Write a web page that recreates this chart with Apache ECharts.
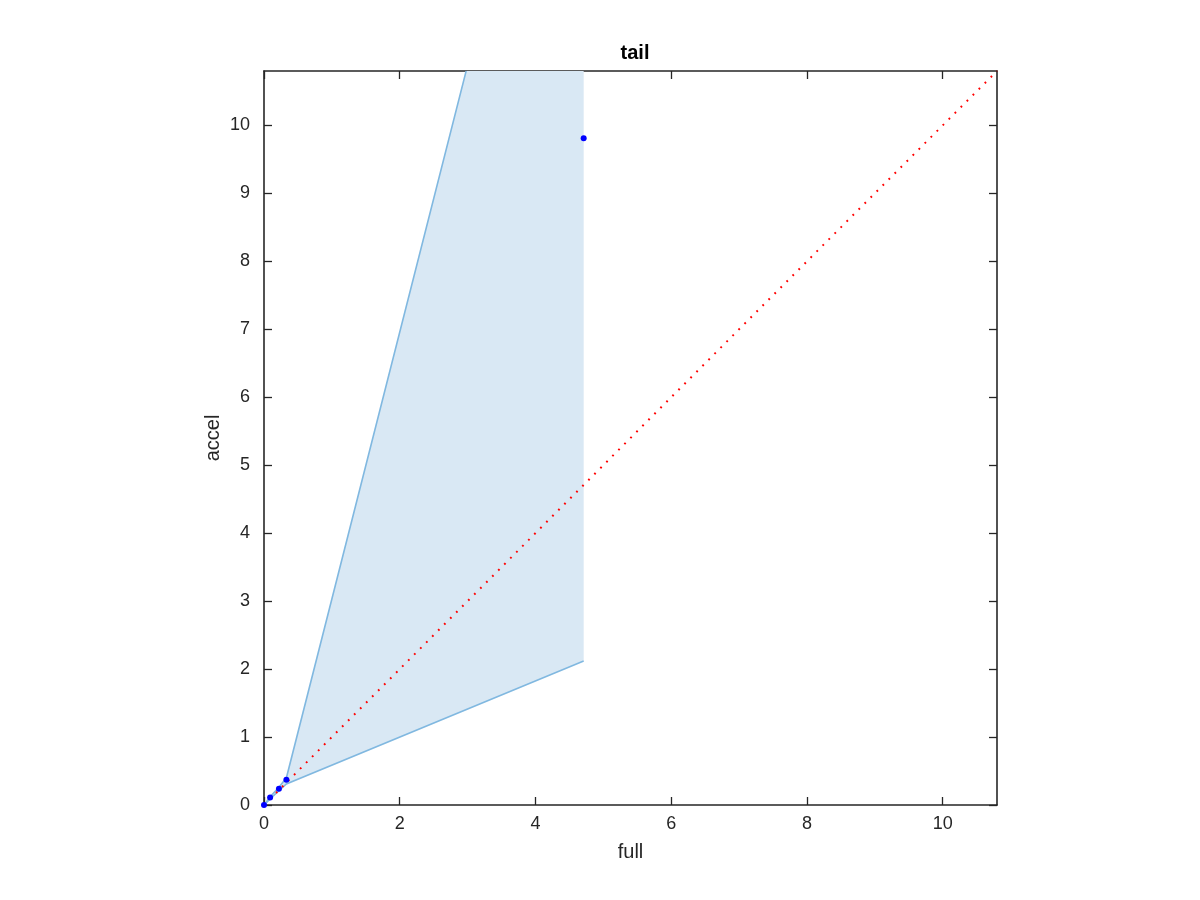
<!DOCTYPE html>
<html>
<head>
<meta charset="utf-8">
<script src="https://cdn.jsdelivr.net/npm/echarts@6/dist/echarts.min.js"></script>
<style>html,body{margin:0;padding:0;background:#fff}#c{width:1200px;height:900px}</style>
</head>
<body>
<div id="c"></div>
<script>
// data
var fullX = [0, 0.09, 0.22, 0.33, 4.71];
var accelY = [0, 0.11, 0.24, 0.37, 9.81];
var lowerBound = [0, 0.09, 0.21, 0.31, 2.12];
var upperBound = [0, 0.12, 0.26, 0.40, 17.6];
var refLine = [0, 10.8];
var xTicks = [0, 2, 4, 6, 8, 10];
var yTicks = [0, 1, 2, 3, 4, 5, 6, 7, 8, 9, 10];
var axisMax = 10.8;

var FONT = '"Liberation Sans", Arial, Helvetica, sans-serif';
var AX = '#262626';
var EDGE = '#80b8e0';
var FILL = '#d9e8f4';

function pairs(xs, ys) { return xs.map(function (x, i) { return [x, ys[i]]; }); }

function mkAxis(pos, ticks, showLabels, margin, extra) {
  var a = {
    type: 'value', position: pos, min: 0, max: axisMax,
    splitLine: { show: false },
    axisLine: { show: true, onZero: false, lineStyle: { color: AX, width: 1.6 } },
    axisTick: { show: true, inside: true, length: 8, customValues: ticks, lineStyle: { color: AX, width: 1.3 } },
    axisLabel: { show: showLabels, customValues: ticks, margin: margin, color: AX, fontSize: 18, fontFamily: FONT }
  };
  for (var k in extra) a[k] = extra[k];
  return a;
}

var bandData = fullX.map(function (x, i) { return [x, lowerBound[i], upperBound[i]]; });

function renderBand(params, api) {
  if (params.dataIndex !== 0) return null;
  var up = [], lo = [];
  for (var i = 0; i < bandData.length; i++) {
    up.push(api.coord([bandData[i][0], bandData[i][2]]));
    lo.push(api.coord([bandData[i][0], bandData[i][1]]));
  }
  var poly = up.concat(lo.slice().reverse());
  return {
    type: 'group',
    children: [
      { type: 'polygon', shape: { points: poly }, style: { fill: FILL, stroke: null } },
      { type: 'polyline', shape: { points: up }, style: { fill: null, stroke: EDGE, lineWidth: 1.6 } },
      { type: 'polyline', shape: { points: lo }, style: { fill: null, stroke: EDGE, lineWidth: 1.6 } }
    ]
  };
}

var chart = echarts.init(document.getElementById('c'), null, { renderer: 'canvas' });
chart.setOption({
  animation: false,
  backgroundColor: '#fff',
  title: {
    text: 'tail', left: 630, top: 38, textAlign: 'center',
    textStyle: { fontFamily: FONT, fontSize: 20, fontWeight: 'bold', color: '#000' }
  },
  grid: { left: 264, top: 71, right: 203, bottom: 95, containLabel: false },
  xAxis: [
    mkAxis('bottom', xTicks, true, 10, { name: 'full', nameLocation: 'middle', nameGap: 37, nameMoveOverlap: false,
      nameTextStyle: { fontFamily: FONT, fontSize: 20, color: AX } }),
    mkAxis('top', xTicks, false, 8, {})
  ],
  yAxis: [
    mkAxis('left', yTicks, true, 14, { name: 'accel', nameLocation: 'middle', nameGap: 41, nameRotate: 90, nameMoveOverlap: false,
      nameTextStyle: { fontFamily: FONT, fontSize: 20, color: AX } }),
    mkAxis('right', yTicks, false, 8, {})
  ],
  series: [
    {
      type: 'custom', data: bandData, renderItem: renderBand, clip: true, z: 1,
      encode: { x: 0, y: [1, 2] }, silent: true
    },
    {
      type: 'line', data: pairs(refLine, refLine), symbol: 'none', clip: true,
      lineStyle: { color: '#ff0000', width: 2, type: [1.8, 6.7] }, z: 2
    },
    {
      type: 'scatter', data: pairs(fullX, accelY), symbol: 'circle', symbolSize: 6,
      itemStyle: { color: '#0000ff', opacity: 1 }, z: 3
    }
  ]
});
</script>
</body>
</html>
